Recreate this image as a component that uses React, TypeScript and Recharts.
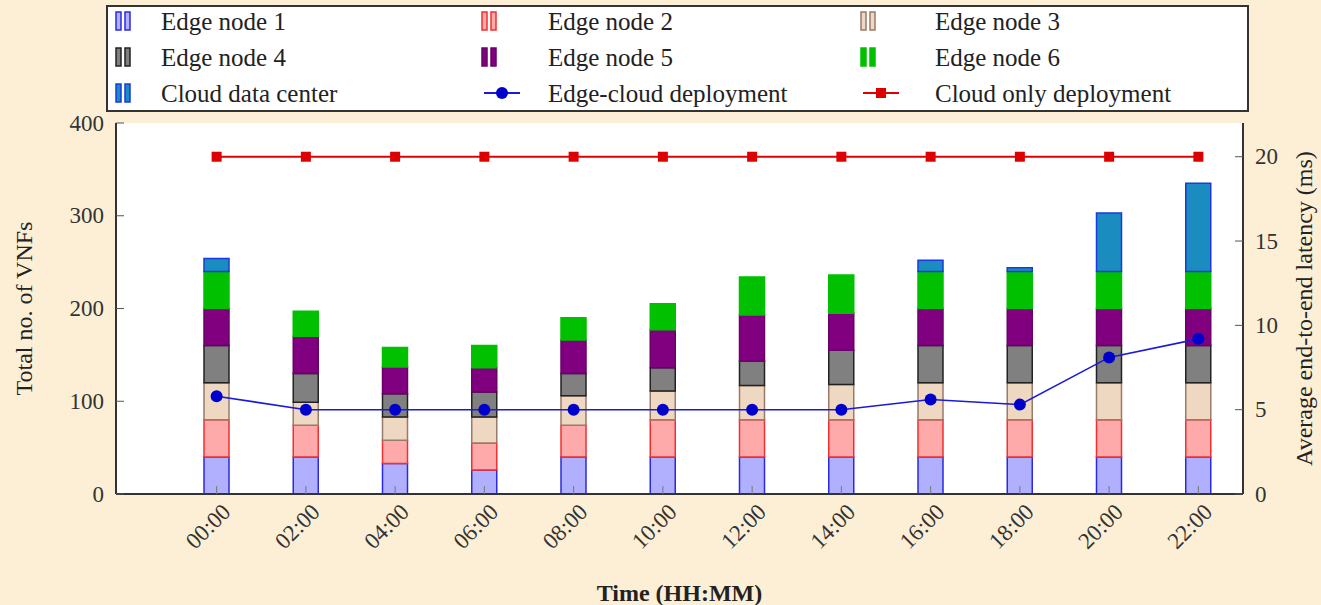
import React from 'react';
import { ComposedChart, Bar, Line, XAxis, YAxis, CartesianGrid, Legend } from 'recharts';

// time slots on the x axis
const times = ['00:00', '02:00', '04:00', '06:00', '08:00', '10:00', '12:00', '14:00', '16:00', '18:00', '20:00', '22:00'];

// VNFs hosted per node (stacked)
const edge1 = [40, 40, 33, 26, 40, 40, 40, 40, 40, 40, 40, 40];
const edge2 = [40, 34, 25, 29, 34, 40, 40, 40, 40, 40, 40, 40];
const edge3 = [40, 25, 25, 28, 32, 31, 37, 38, 40, 40, 40, 40];
const edge4 = [40, 31, 25, 27, 24, 25, 26, 37, 40, 40, 40, 40];
const edge5 = [40, 40, 29, 26, 36, 41, 50, 40, 40, 40, 40, 40];
const edge6 = [40, 27, 21, 24, 24, 28, 41, 41, 40, 40, 40, 40];
const cloudDc = [14, 0, 0, 0, 0, 0, 0, 0, 12, 4, 63, 95];

// average end-to-end latency (ms)
const edgeCloudLatency = [5.8, 5, 5, 5, 5, 5, 5, 5, 5.6, 5.3, 8.1, 9.2];
const cloudOnlyLatency = [20, 20, 20, 20, 20, 20, 20, 20, 20, 20, 20, 20];

const leftTicks = [0, 100, 200, 300, 400];
const rightTicks = [0, 5, 10, 15, 20];

const FONT = '"Liberation Serif", "Times New Roman", serif';
const BG = '#fcefd6';
const PLOT_LEFT = 116;
const PLOT_RIGHT = 1243;
const PLOT_BOTTOM = 494;

const stacks = [
  { key: 'e1', name: 'Edge node 1', fill: '#b0b0ff', stroke: '#2a2ae0' },
  { key: 'e2', name: 'Edge node 2', fill: '#ffaaaa', stroke: '#f03030' },
  { key: 'e3', name: 'Edge node 3', fill: '#efd8c2', stroke: '#9a7a6a' },
  { key: 'e4', name: 'Edge node 4', fill: '#808080', stroke: '#222222' },
  { key: 'e5', name: 'Edge node 5', fill: '#800080', stroke: '#6a006a' },
  { key: 'e6', name: 'Edge node 6', fill: '#00c000', stroke: '#00c000' },
  { key: 'cloud', name: 'Cloud data center', fill: '#1a8cbf', stroke: '#1a3adf' },
];

const data = times.map((t, i) => ({
  time: t,
  e1: edge1[i],
  e2: edge2[i],
  e3: edge3[i],
  e4: edge4[i],
  e5: edge5[i],
  e6: edge6[i],
  cloud: cloudDc[i],
  edgeCloud: edgeCloudLatency[i],
  cloudOnly: cloudOnlyLatency[i],
}));

function LeftTick({ y, payload }: any) {
  return (
    <g>
      <line x1={PLOT_LEFT} x2={PLOT_LEFT + 8} y1={y} y2={y} stroke="#555" />
      <text x={PLOT_LEFT - 12} y={y} textAnchor="end" dominantBaseline="central" fontFamily={FONT} fontSize={23} fill="#333">
        {payload.value}
      </text>
    </g>
  );
}

function RightTick({ y, payload }: any) {
  return (
    <g>
      <line x1={PLOT_RIGHT - 8} x2={PLOT_RIGHT} y1={y} y2={y} stroke="#555" />
      <text x={PLOT_RIGHT + 12} y={y} textAnchor="start" dominantBaseline="central" fontFamily={FONT} fontSize={23} fill="#333">
        {payload.value}
      </text>
    </g>
  );
}

function TimeTick({ x, payload }: any) {
  return (
    <g>
      <line x1={x} x2={x} y1={PLOT_BOTTOM} y2={PLOT_BOTTOM - 8} stroke="#777" />
      <text
        transform={`translate(${x + 10},${PLOT_BOTTOM + 14}) rotate(-45)`}
        textAnchor="end"
        dominantBaseline="central"
        fontFamily={FONT}
        fontSize={23}
        fill="#333"
      >
        {payload.value}
      </text>
    </g>
  );
}

// rotated axis title, centred on the plot's height
function AxisTitle({ viewBox, value, cx }: any) {
  const cy = viewBox.y + viewBox.height / 2;
  return (
    <text
      transform={`translate(${cx},${cy}) rotate(-90)`}
      textAnchor="middle"
      dominantBaseline="central"
      fontFamily={FONT}
      fontSize={24}
      fill="#222"
    >
      {value}
    </text>
  );
}

function RoundDot({ cx, cy }: any) {
  return <circle cx={cx} cy={cy} r={6} fill="#0000cc" />;
}

function SquareDot({ cx, cy }: any) {
  return <rect x={cx - 5} y={cy - 5} width={10} height={10} fill="#dd0000" />;
}

const legendItems = [
  ...stacks.map((s) => ({ label: s.name, kind: 'bar', fill: s.fill, stroke: s.stroke })),
  { label: 'Edge-cloud deployment', kind: 'circle', fill: '#0000cc', stroke: '#1a1ad8' },
  { label: 'Cloud only deployment', kind: 'square', fill: '#dd0000', stroke: '#e00000' },
];

function LegendBox() {
  const colIcon = [10, 376, 755];
  const colText = [55, 442, 829];
  const rowY = [16, 52, 88];
  return (
    <svg width={1143} height={107} style={{ display: 'block' }}>
      <rect x={1} y={1} width={1141} height={105} fill="#fff" stroke="#333" strokeWidth={2} />
      {legendItems.map((it, i) => {
        const col = i % 3;
        const row = Math.floor(i / 3);
        const y = rowY[row];
        const ix = colIcon[col];
        let icon;
        if (it.kind === 'bar') {
          icon = (
            <g>
              <rect x={ix} y={y - 9} width={5} height={18} fill={it.fill} stroke={it.stroke} strokeWidth={1.5} />
              <rect x={ix + 9} y={y - 9} width={5} height={18} fill={it.fill} stroke={it.stroke} strokeWidth={1.5} />
            </g>
          );
        } else {
          const lx = ix + 2;
          icon = (
            <g>
              <line x1={lx} x2={lx + 36} y1={y} y2={y} stroke={it.stroke} strokeWidth={2} />
              {it.kind === 'circle' ? (
                <circle cx={lx + 18} cy={y} r={6} fill={it.fill} />
              ) : (
                <rect x={lx + 13} y={y - 5} width={10} height={10} fill={it.fill} />
              )}
            </g>
          );
        }
        return (
          <g key={it.label}>
            {icon}
            <text x={colText[col]} y={y} dominantBaseline="central" fontFamily={FONT} fontSize={25} fill="#222">
              {it.label}
            </text>
          </g>
        );
      })}
    </svg>
  );
}

export default function App() {
  return (
    <div style={{ position: 'absolute', left: 0, top: 0, width: 1321, height: 605, background: BG }}>
      <ComposedChart width={1321} height={605} data={data} margin={{ top: 123, right: 0, bottom: 0, left: 0 }} barSize={25}>
        <CartesianGrid fill="#ffffff" stroke="none" horizontal={false} vertical={false} yAxisId="left" />
        <XAxis
          dataKey="time"
          height={111}
          padding={{ left: 56, right: 0 }}
          axisLine={{ stroke: '#333', strokeWidth: 2 }}
          tickLine={false}
          interval={0}
          tick={<TimeTick />}
          label={{
            value: 'Time (HH:MM)',
            position: 'insideBottom',
            offset: 4,
            style: { fontFamily: FONT, fontSize: 24, fontWeight: 'bold', fill: '#222' },
          }}
        />
        <XAxis xAxisId="top" orientation="top" dataKey="time" height={0} tick={false} tickLine={false} axisLine={{ stroke: '#333', strokeWidth: 2 }} />
        <YAxis
          yAxisId="left"
          width={116}
          domain={[0, 400]}
          ticks={leftTicks}
          axisLine={{ stroke: '#333', strokeWidth: 2 }}
          tickLine={false}
          tick={<LeftTick />}
          label={<AxisTitle value="Total no. of VNFs" cx={24} />}
        />
        <YAxis
          yAxisId="right"
          orientation="right"
          width={78}
          domain={[0, 22]}
          ticks={rightTicks}
          axisLine={{ stroke: '#333', strokeWidth: 2 }}
          tickLine={false}
          tick={<RightTick />}
          label={<AxisTitle value="Average end-to-end latency (ms)" cx={1304} />}
        />
        {stacks.map((s) => (
          <Bar
            key={s.key}
            dataKey={s.key}
            name={s.name}
            stackId="vnf"
            yAxisId="left"
            fill={s.fill}
            stroke={s.stroke}
            strokeWidth={1.5}
            isAnimationActive={false}
          />
        ))}
        <Line
          dataKey="edgeCloud"
          name="Edge-cloud deployment"
          yAxisId="right"
          stroke="#1a1ad8"
          strokeWidth={1.6}
          dot={<RoundDot />}
          isAnimationActive={false}
        />
        <Line
          dataKey="cloudOnly"
          name="Cloud only deployment"
          yAxisId="right"
          stroke="#e00000"
          strokeWidth={2}
          dot={<SquareDot />}
          isAnimationActive={false}
        />
        <Legend
          layout="horizontal"
          verticalAlign="middle"
          align="center"
          content={() => <LegendBox />}
          wrapperStyle={{ top: 5, left: 106, width: 1143, height: 107 }}
        />
      </ComposedChart>
    </div>
  );
}
